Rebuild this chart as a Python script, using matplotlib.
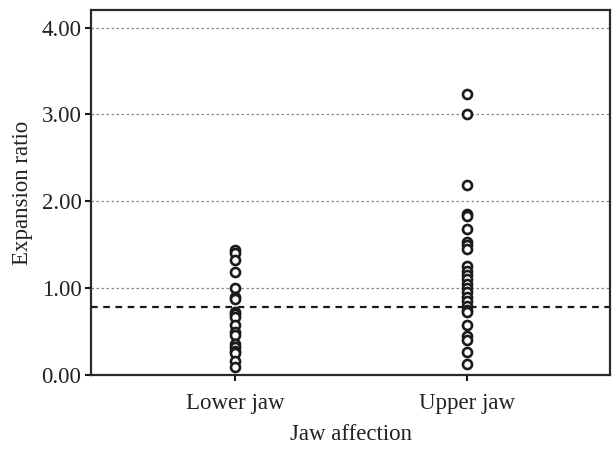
import numpy as np
import matplotlib.pyplot as plt

plt.rcParams['font.family'] = ['Liberation Serif', 'DejaVu Serif']

categories = ["Lower jaw", "Upper jaw"]
lower_jaw = [1.44, 1.40, 1.32, 1.19, 1.00, 0.90, 0.88, 0.72, 0.70, 0.67, 0.58,
             0.50, 0.46, 0.36, 0.32, 0.28, 0.25, 0.16, 0.09]
upper_jaw = [3.24, 3.00, 2.19, 1.85, 1.83, 1.68, 1.53, 1.50, 1.45, 1.25, 1.20,
             1.15, 1.10, 1.05, 1.00, 0.95, 0.90, 0.85, 0.80, 0.75, 0.72, 0.57,
             0.45, 0.40, 0.27, 0.13]
cutoff = 0.78
yticks = [0, 1, 2, 3, 4]

fig = plt.figure(figsize=(6.12, 4.51), dpi=100)
ax = fig.add_axes([0.149, 0.1685, 0.848, 0.809])

for i, vals in enumerate([lower_jaw, upper_jaw]):
    ax.plot(np.full(len(vals), i + 1), vals, 'o', ls='none', ms=6.5,
            mfc='white', mec='#1a1a1a', mew=1.9, zorder=3)

for y in yticks[1:]:
    ax.axhline(y, color='#888888', ls=(0, (2, 2)), lw=0.9, zorder=1)
ax.axhline(cutoff, color='#1a1a1a', ls=(0, (3, 2.5)), lw=1.6, zorder=2)

ax.set_xlim(0.38, 2.62)
ax.set_ylim(0, 4.2)
ax.set_xticks([1, 2])
ax.set_xticklabels(categories)
ax.set_yticks(yticks)
ax.set_yticklabels(["%.2f" % v for v in yticks])
ax.tick_params(labelsize=16.5, width=1.5, length=4, color='#1a1a1a', colors='#222222')
ax.tick_params(axis='x', pad=9)
ax.tick_params(axis='y', pad=3)
for s in ax.spines.values():
    s.set_linewidth(1.6)
    s.set_color('#2a2a2a')

ax.set_xlabel("Jaw affection", fontsize=16.5, labelpad=7, color='#222222')
ax.set_ylabel("Expansion ratio", fontsize=16.5, labelpad=6, color='#222222')

fig.savefig("out.png", dpi=100)
